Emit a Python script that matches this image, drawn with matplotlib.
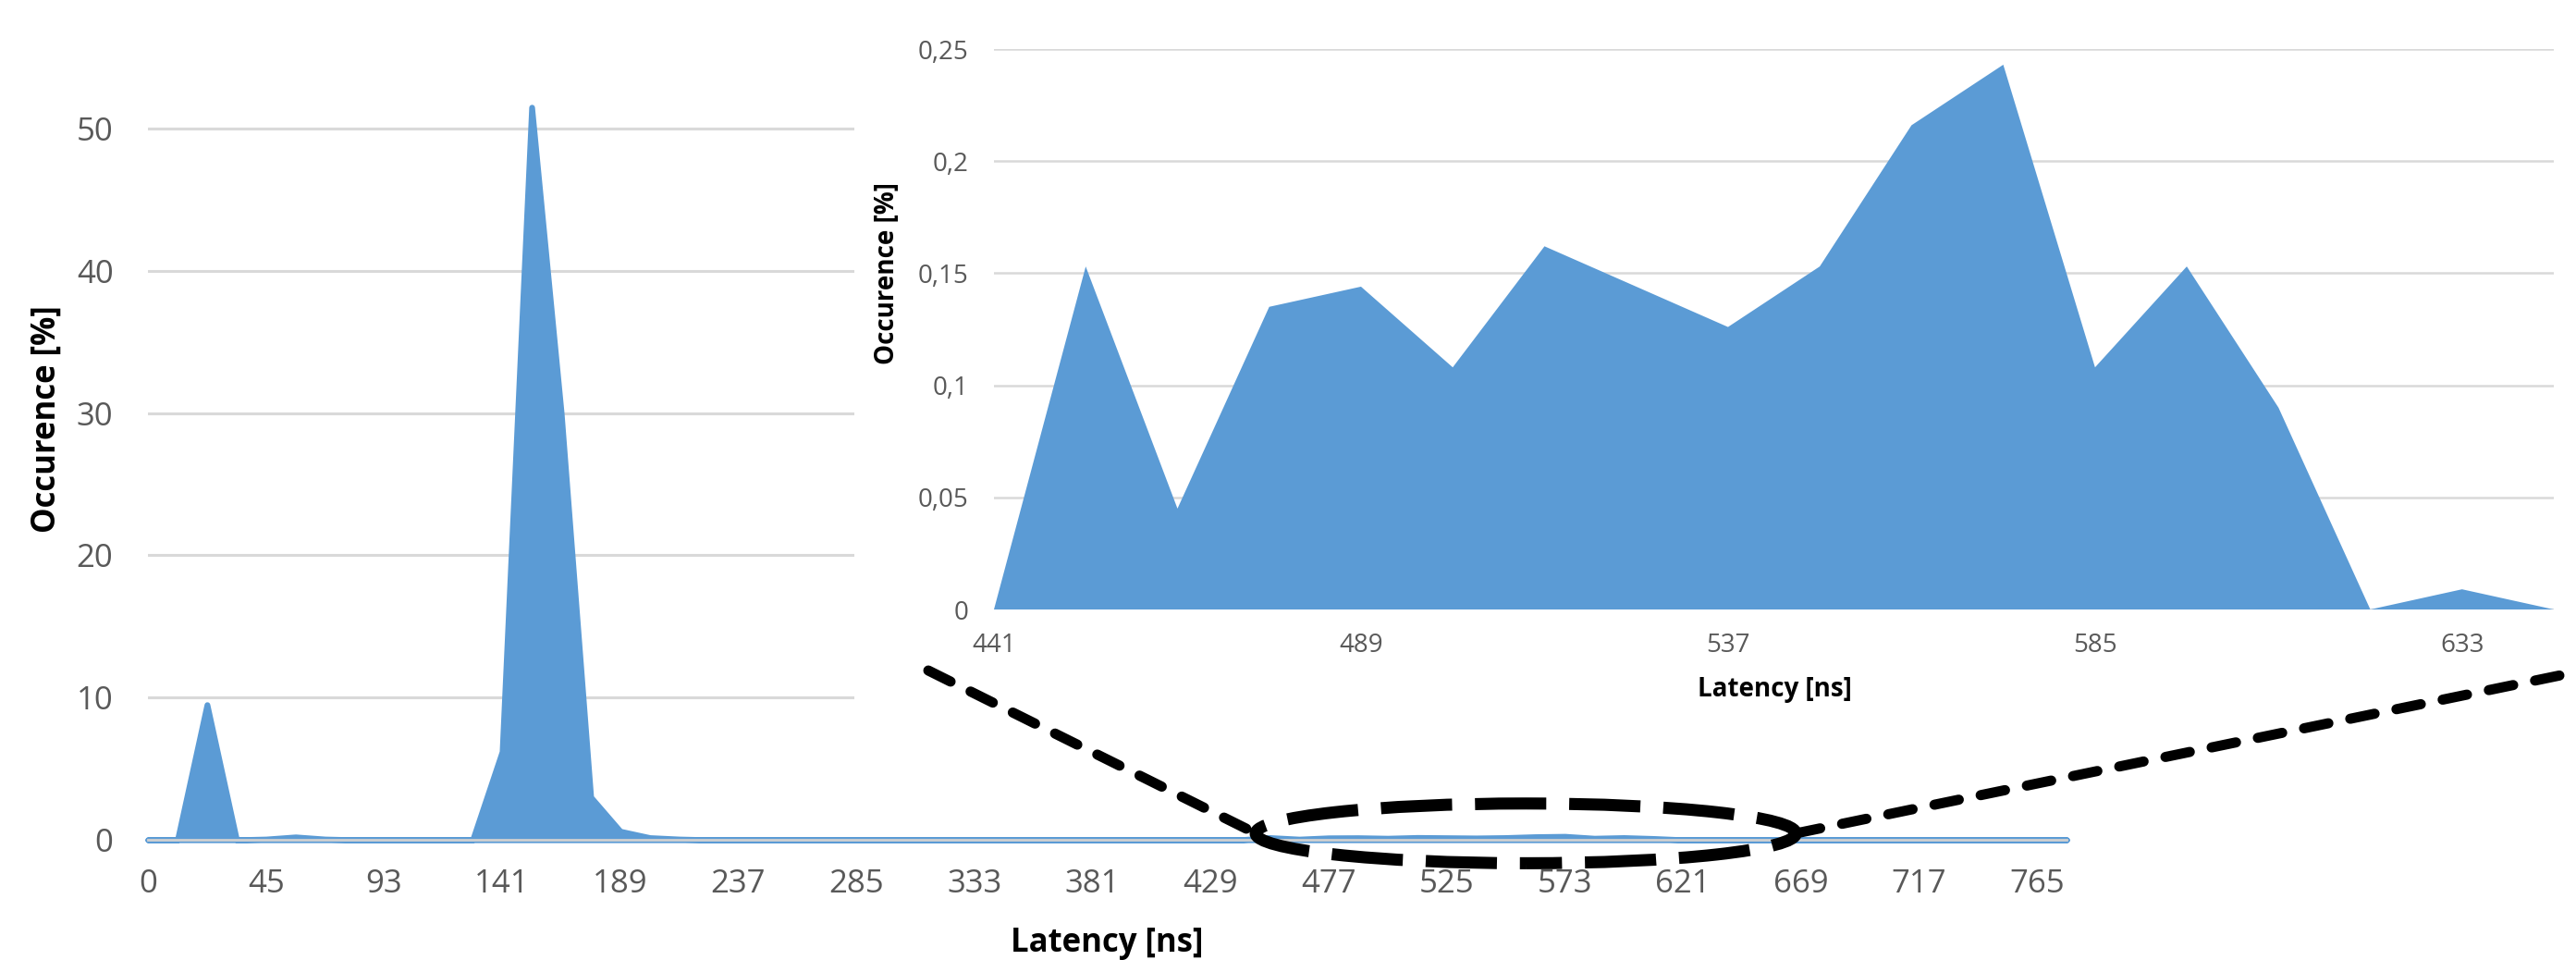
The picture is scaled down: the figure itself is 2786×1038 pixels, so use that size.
import numpy as np
import matplotlib
matplotlib.use("Agg")
import matplotlib.pyplot as plt
from matplotlib.patches import Rectangle, Ellipse
from matplotlib.lines import Line2D

plt.rcParams['font.family'] = ['Open Sans', 'DejaVu Sans']

# ---------------- data ----------------
latency_ns = [0] + [9 + 12 * k for k in range(65)]          # category labels (ns)
occurrence = [
    0, 0, 9.5, 0, 0.05, 0.2, 0.05, 0, 0, 0,
    0, 0, 6.2, 51.5, 30.0, 3.0, 0.6, 0.15, 0.05, 0,
    0, 0, 0, 0, 0, 0, 0, 0, 0, 0,
    0, 0, 0, 0, 0, 0, 0,
    # 441 ... 645 (zoomed region)
    0, 0.153, 0.045, 0.135, 0.144, 0.108, 0.162, 0.144, 0.126, 0.153,
    0.216, 0.243, 0.108, 0.153, 0.090, 0, 0.009, 0,
    0, 0, 0, 0, 0, 0, 0, 0, 0, 0, 0,
]
main_yticks = [0, 10, 20, 30, 40, 50]
zoom_start, zoom_end = 37, 55          # indices of 441 .. 645
inset_yticks = [0, 0.05, 0.10, 0.15, 0.20, 0.25]
inset_yticklabels = ["0", "0,05", "0,1", "0,15", "0,2", "0,25"]

# ---------------- figure ----------------
W, H = 2786, 1038
fig = plt.figure(figsize=(W / 100, H / 100), dpi=100)
fig.patch.set_facecolor('white')

blue = '#5B9BD5'
grid_c = '#D9D9D9'
tick_c = '#595959'

# main axes
ax = fig.add_axes([160 / W, 130 / H, 2075 / W, 908 / H], zorder=0)
x = np.arange(len(latency_ns))
ax.fill_between(x, occurrence, 0, facecolor=blue, edgecolor=blue,
                linewidth=4.5, joinstyle='round', zorder=2, clip_on=False)
ax.axhline(0, color='#D0D0D0', lw=2.0, zorder=3, clip_on=False)
ax.set_xlim(0, len(latency_ns) - 1)
ax.set_ylim(0, 50 * 908 / (908 - 139))
ax.set_yticks(main_yticks)
ax.set_xticks(x[::4])
ax.set_xticklabels([str(v) for v in latency_ns[::4]])
ax.grid(axis='y', color=grid_c, lw=2.2, zorder=0)
ax.set_axisbelow(True)
for s in ax.spines.values():
    s.set_visible(False)
ax.tick_params(axis='both', length=0, colors=tick_c, labelsize=25)
ax.tick_params(axis='y', pad=27)
ax.tick_params(axis='x', pad=22)

fig.text(51 / W, 1 - 453 / H, 'Occurence [%]', rotation=90, ha='center',
         va='center', fontsize=25, fontweight='bold', color='black')
fig.text(1197 / W, 1 - 1020 / H, 'Latency [ns]', ha='center', va='center',
         fontsize=25, fontweight='bold', color='black')

# white panel of the inset
rect = Rectangle((924 / W, 238 / H), (W - 924) / W, 800 / H,
                 transform=fig.transFigure, facecolor='white',
                 edgecolor='none', zorder=1)
fig.add_artist(rect)

# inset axes
axi = fig.add_axes([1075 / W, 379 / H, 1687 / W, 606 / H], zorder=2)
axi.set_facecolor('white')
xi = np.arange(zoom_end - zoom_start)
axi.fill_between(xi, occurrence[zoom_start:zoom_end], 0, facecolor=blue,
                 edgecolor='none', linewidth=0, zorder=2)
axi.set_xlim(0, len(xi) - 1)
axi.set_ylim(0, 0.25)
axi.set_yticks(inset_yticks)
axi.set_yticklabels(inset_yticklabels)
axi.set_xticks(xi[::4])
axi.set_xticklabels([str(v) for v in latency_ns[zoom_start:zoom_end:4]])
axi.grid(axis='y', color=grid_c, lw=1.8, zorder=0)
axi.set_axisbelow(True)
for s in axi.spines.values():
    s.set_visible(False)
axi.tick_params(axis='both', length=0, colors=tick_c, labelsize=20)
axi.tick_params(axis='y', pad=20)
axi.tick_params(axis='x', pad=18)

fig.text(960 / W, 1 - 296 / H, 'Occurence [%]', rotation=90, ha='center',
         va='center', fontsize=20, fontweight='bold', color='black')
fig.text(1919 / W, 1 - 746 / H, 'Latency [ns]', ha='center', va='center',
         fontsize=20, fontweight='bold', color='black')

# zoom marker: dashed ellipse + dashed connector lines
cx, cy, ew, eh = 46.68, 0.45, 18.3, 4.2
ell = Ellipse((cx, cy), ew, eh, transform=ax.transData, fill=False,
              edgecolor='black', lw=9.4, linestyle=(2.9, (5.9, 1.9)),
              capstyle='butt', zorder=5, clip_on=False)
fig.add_artist(ell)

to_fig = fig.transFigure.inverted()
lt = to_fig.transform(ax.transData.transform((cx - ew / 2, cy)))
rt = to_fig.transform(ax.transData.transform((cx + ew / 2, cy)))
l0 = (1004 / W, 1 - 725 / H)
r1 = (2770 / W, 1 - 730 / H)
for p0, p1 in [(l0, lt), (rt, r1)]:
    ln = Line2D([p0[0], p1[0]], [p0[1], p1[1]], transform=fig.transFigure,
                color='black', lw=7.9, linestyle=(0, (2.45, 2.2)),
                dash_capstyle='round', solid_capstyle='round', zorder=5)
    fig.add_artist(ln)

fig.savefig('out.png', dpi=100, facecolor='white')
